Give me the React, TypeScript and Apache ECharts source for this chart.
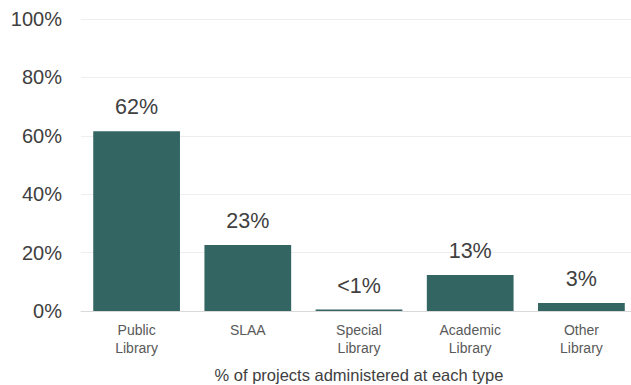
import React, { useEffect, useRef } from "react";
import * as echarts from "echarts";

const categories = ["Public\nLibrary", "SLAA", "Special\nLibrary", "Academic\nLibrary", "Other\nLibrary"];
const values = [61.6, 22.6, 0.5, 12.3, 2.7];
const valueLabels = ["62%", "23%", "<1%", "13%", "3%"];
const axisName = "% of projects administered at each type";

export default function App() {
  const ref = useRef<HTMLDivElement>(null);
  useEffect(() => {
    if (!ref.current) return;
    const chart = echarts.init(ref.current, null, { renderer: "svg" });
    const font = "'Liberation Sans', Arial, sans-serif";
    chart.setOption({
      animation: false,
      textStyle: { fontFamily: font },
      grid: { left: 81, right: 0, top: 19, bottom: 74, outerBoundsMode: "none", containLabel: false },
      xAxis: {
        type: "category",
        data: categories,
        axisTick: { show: false },
        axisLine: { lineStyle: { color: "#d9d9d9", width: 1 } },
        axisLabel: { color: "#595959", fontSize: 14, lineHeight: 18, margin: 10, fontFamily: font },
        name: axisName,
        nameLocation: "middle",
        nameGap: 55,
        nameTextStyle: { color: "#404040", fontSize: 16.5, fontFamily: font },
      },
      yAxis: {
        type: "value",
        min: 0,
        max: 100,
        interval: 20,
        axisLabel: { formatter: "{value}%", color: "#404040", fontSize: 20, margin: 19, fontFamily: font },
        splitLine: { lineStyle: { color: "#eeeeee", width: 1 } },
        axisLine: { show: false },
        axisTick: { show: false },
      },
      series: [
        {
          type: "bar",
          data: values,
          barCategoryGap: "22%",
          itemStyle: { color: "#336563" },
          label: {
            show: true,
            position: "top",
            distance: 13,
            color: "#404040",
            fontSize: 21.5,
            fontFamily: font,
            formatter: (p: any) => valueLabels[p.dataIndex],
          },
        },
      ],
    });
    return () => chart.dispose();
  }, []);
  return (
    <div style={{ position: "absolute", left: 0, top: 0, width: 631, height: 385, overflow: "hidden", background: "#fff" }}>
      <div ref={ref} style={{ width: 637, height: 385 }} />
    </div>
  );
}
